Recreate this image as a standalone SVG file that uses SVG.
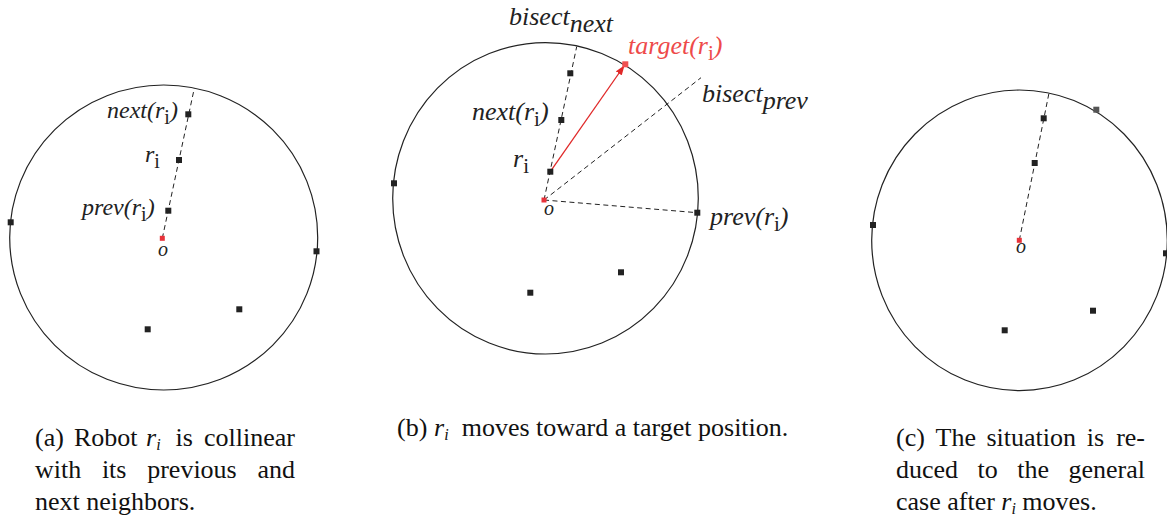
<svg xmlns="http://www.w3.org/2000/svg" width="1167" height="520" viewBox="0 0 1167 520">
<style>
.c{fill:none;stroke:#222;stroke-width:1.2}
.d{fill:none;stroke:#222;stroke-width:1;stroke-dasharray:5 3.5}
.p{fill:#222}
.g{fill:#555}
.o{fill:#e8323a}
.lab{font-family:"Liberation Serif",serif;font-style:italic;fill:#222}
.sub{font-style:normal}
.red{fill:#ee4a4a}
.cap{font-family:"Liberation Serif",serif;font-size:26px;fill:#111}
.mi{font-style:italic}
</style>
<defs>
<marker id="ah" markerWidth="10" markerHeight="8" refX="9" refY="4" orient="auto" markerUnits="userSpaceOnUse">
<path d="M0,0.5 L10,4 L0,7.5 Z" fill="#e02828"/>
</marker>
</defs>
<rect width="1167" height="520" fill="#fff"/>

<!-- Panel (a) -->
<g id="panel-a">
<ellipse class="c" cx="163.7" cy="237.5" rx="154" ry="152.5"/>
<g id="connectors-a">
<line class="d" x1="162.3" y1="238.3" x2="194.3" y2="88.3"/>
</g>
<g id="a-next"><rect class="p" x="185.3" y="111.3" width="6" height="6"/></g>
<g id="a-ri"><rect class="p" x="176" y="157" width="6" height="6"/></g>
<g id="a-prev"><rect class="p" x="165.3" y="207.7" width="6" height="6"/></g>
<g id="a-o"><rect class="o" x="159.8" y="235.8" width="5" height="5"/></g>
<g id="a-left"><rect class="p" x="7.7" y="219.3" width="6" height="6"/></g>
<g id="a-right"><rect class="p" x="313.5" y="248.3" width="6" height="6"/></g>
<g id="a-b1"><rect class="p" x="236.3" y="306.3" width="6" height="6"/></g>
<g id="a-b2"><rect class="p" x="144.7" y="326.3" width="6" height="6"/></g>
<text class="lab" x="107" y="118" font-size="24">next(r<tspan class="sub" font-size="20" dy="6">i</tspan><tspan dy="-6">)</tspan></text>
<text class="lab" x="145" y="162" font-size="24">r<tspan class="sub" font-size="20" dy="6">i</tspan></text>
<text class="lab" x="82" y="215" font-size="24">prev(r<tspan class="sub" font-size="20" dy="6">i</tspan><tspan dy="-6">)</tspan></text>
<text class="lab" x="163" y="256" font-size="20" text-anchor="middle">o</text>
</g>

<!-- Panel (b) -->
<g id="panel-b">
<ellipse class="c" cx="545.5" cy="198.3" rx="152.8" ry="155.7"/>
<g id="connectors-b">
<line class="d" x1="544" y1="200" x2="576.7" y2="46.7"/>
<line class="d" x1="544" y1="200" x2="701" y2="77.7"/>
<line class="d" x1="544" y1="200" x2="697.3" y2="212.7"/>
<line x1="550.3" y1="171.7" x2="624" y2="66" stroke="#e02828" stroke-width="1.3" marker-end="url(#ah)"/>
</g>
<g id="b-bn"><rect class="p" x="567.3" y="70.3" width="6" height="6"/></g>
<g id="b-next"><rect class="p" x="558.3" y="117" width="6" height="6"/></g>
<g id="b-ri"><rect class="p" x="547.3" y="168.7" width="6" height="6"/></g>
<g id="b-o"><rect class="o" x="541.5" y="197.5" width="5" height="5"/></g>
<g id="b-target"><rect x="622.3" y="61.3" width="6" height="6" fill="#f05050"/></g>
<g id="b-prev"><rect class="p" x="694.3" y="209.7" width="6" height="6"/></g>
<g id="b-left"><rect class="p" x="391" y="180.3" width="6" height="6"/></g>
<g id="b-b1"><rect class="p" x="618" y="269.3" width="6" height="6"/></g>
<g id="b-b2"><rect class="p" x="527.3" y="289.7" width="6" height="6"/></g>
<text class="lab" x="509" y="25" font-size="26">bisect<tspan dy="7">next</tspan></text>
<text class="lab red" x="628" y="54" font-size="26">target(r<tspan class="sub" font-size="21" dy="6">i</tspan><tspan dy="-6">)</tspan></text>
<text class="lab" x="702" y="102" font-size="26">bisect<tspan dy="7">prev</tspan></text>
<text class="lab" x="472" y="120" font-size="26">next(r<tspan class="sub" font-size="21" dy="6">i</tspan><tspan dy="-6">)</tspan></text>
<text class="lab" x="513" y="167" font-size="26">r<tspan class="sub" font-size="21" dy="6">i</tspan></text>
<text class="lab" x="710" y="225" font-size="26">prev(r<tspan class="sub" font-size="21" dy="6">i</tspan><tspan dy="-6">)</tspan></text>
<text class="lab" x="549" y="215" font-size="20" text-anchor="middle">o</text>
</g>

<!-- Panel (c) -->
<g id="panel-c">
<ellipse class="c" cx="1019.5" cy="240.3" rx="147.8" ry="150.3"/>
<g id="connectors-c">
<line class="d" x1="1019.3" y1="240.3" x2="1049.1" y2="92.5"/>
</g>
<g id="c-n1"><rect class="p" x="1040.7" y="115.3" width="6" height="6"/></g>
<g id="c-n2"><rect class="p" x="1031.7" y="160" width="6" height="6"/></g>
<g id="c-o"><rect class="o" x="1016.8" y="237.8" width="5" height="5"/></g>
<g id="c-gray"><rect class="g" x="1093.3" y="106.7" width="6" height="6"/></g>
<g id="c-left"><rect class="p" x="870" y="222" width="6" height="6"/></g>
<g id="c-right"><rect class="p" x="1163" y="250.3" width="6" height="6"/></g>
<g id="c-b1"><rect class="p" x="1090" y="307.7" width="6" height="6"/></g>
<g id="c-b2"><rect class="p" x="1001.7" y="327.3" width="6" height="6"/></g>
<text class="lab" x="1021" y="253" font-size="20" text-anchor="middle">o</text>
</g>

<!-- Captions -->
<g id="caption-a" class="cap">
<text x="35" y="446">(a)</text>
<text x="74" y="446">Robot</text>
<text x="146" y="446"><tspan class="mi">r</tspan><tspan class="mi" font-size="16" dy="4">i</tspan></text>
<text x="175.5" y="446">is</text>
<text x="295" y="446" text-anchor="end">collinear</text>
<text x="35" y="478">with</text>
<text x="101.9" y="478">its</text>
<text x="147.2" y="478">previous</text>
<text x="295" y="478" text-anchor="end">and</text>
<text x="35" y="510">next neighbors.</text>
</g>
<g id="caption-b" class="cap">
<text x="397" y="436">(b)</text>
<text x="434" y="436"><tspan class="mi">r</tspan><tspan class="mi" font-size="16" dy="4">i</tspan></text>
<text x="461.7" y="436">moves toward a target position.</text>
</g>
<g id="caption-c" class="cap">
<text x="896" y="446">(c)</text>
<text x="935.5" y="446">The</text>
<text x="986.5" y="446">situation</text>
<text x="1086.7" y="446">is</text>
<text x="1145" y="446" text-anchor="end">re-</text>
<text x="896" y="478">duced</text>
<text x="977.6" y="478">to</text>
<text x="1017.3" y="478">the</text>
<text x="1145" y="478" text-anchor="end">general</text>
<text x="896" y="510">case after</text>
<text x="1001.3" y="510"><tspan class="mi">r</tspan><tspan class="mi" font-size="16" dy="4">i</tspan></text>
<text x="1022.3" y="510">moves.</text>
</g>
</svg>
